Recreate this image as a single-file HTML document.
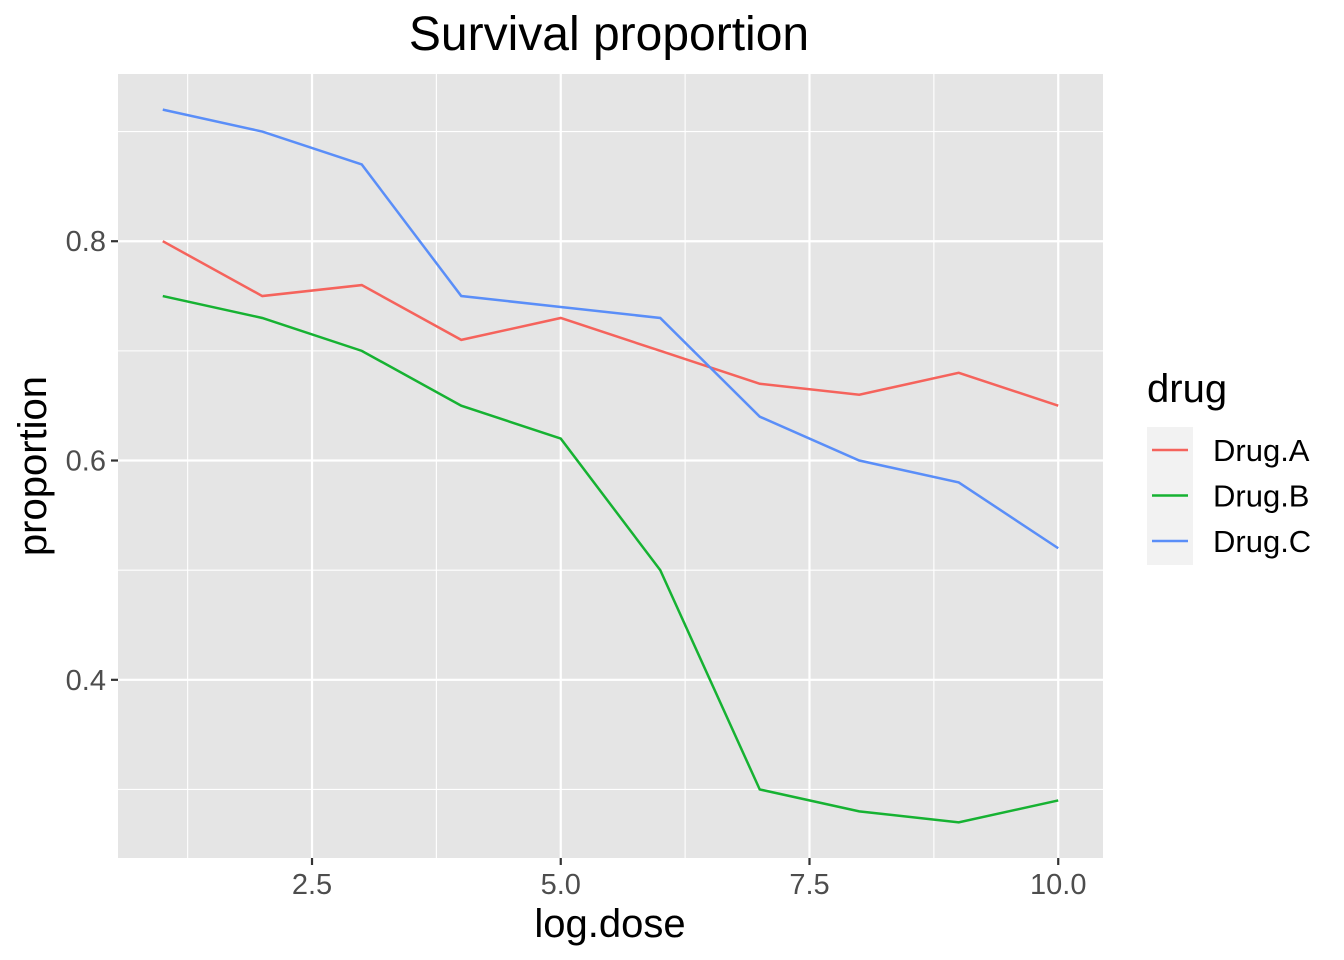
<!DOCTYPE html>
<html><head><meta charset="utf-8"><style>
body{margin:0;background:#fff;}
svg{display:block;font-family:"Liberation Sans",Arial,sans-serif;}
</style></head><body>
<svg id="chart" width="1344" height="960">
<text x="609" y="50" text-anchor="middle" font-size="48" fill="#000">Survival proportion</text>
<rect x="118" y="74" width="985" height="784" fill="#e5e5e5"/>
<g id="grid"></g>
<g id="lines"></g>
<g id="axes"></g>
<text x="610" y="937" text-anchor="middle" font-size="40" fill="#000">log.dose</text>
<text transform="translate(46,466) rotate(-90)" text-anchor="middle" font-size="40" fill="#000">proportion</text>
<g id="legend">
<text x="1147" y="402" font-size="40" fill="#000">drug</text>
<rect x="1147" y="427" width="46" height="138" fill="#f2f2f2"/>
</g>
</svg>
<script>
const doses=[1,2,3,4,5,6,7,8,9,10];
const drugA=[0.80,0.75,0.76,0.71,0.73,0.70,0.67,0.66,0.68,0.65];
const drugB=[0.75,0.73,0.70,0.65,0.62,0.50,0.30,0.28,0.27,0.29];
const drugC=[0.92,0.90,0.87,0.75,0.74,0.73,0.64,0.60,0.58,0.52];
const seriesNames=["Drug.A","Drug.B","Drug.C"];
const xTicks=[2.5,5.0,7.5,10.0];
const xTickLabels=["2.5","5.0","7.5","10.0"];
const yTicks=[0.4,0.6,0.8];
const yTickLabels=["0.4","0.6","0.8"];
const colors=["#F5635C","#16B232","#5A8EF8"];
const NS="http://www.w3.org/2000/svg";
const all=[drugA,drugB,drugC];
const vals=all.flat();
const ymin=Math.min(...vals),ymax=Math.max(...vals);
const yr=ymax-ymin;
const xmin=Math.min(...doses),xmax=Math.max(...doses),xr=xmax-xmin;
const X0=118,X1=1103,Y0=858,Y1=74;
function sx(v){return X0+(v-(xmin-0.05*xr))/(xr*1.1)*(X1-X0);}
function sy(v){return Y0-(v-(ymin-0.05*yr))/(yr*1.1)*(Y0-Y1);}
function mk(tag,attrs,parent){const e=document.createElementNS(NS,tag);for(const k in attrs)e.setAttribute(k,attrs[k]);parent.appendChild(e);return e;}
const grid=document.getElementById('grid'),axes=document.getElementById('axes'),lines=document.getElementById('lines'),legend=document.getElementById('legend');
for(let i=0;i<xTicks.length;i++){const m=xTicks[i]-1.25;if(sx(m)>X0){const l=mk('line',{x1:sx(m),x2:sx(m),y1:Y1,y2:Y0,stroke:'#fff','stroke-width':1.1},grid);

}}
for(let i=0;i<=yTicks.length;i++){const m=(i<yTicks.length?yTicks[i]:yTicks[i-1]+0.2)-0.1;if(sy(m)>Y1&&sy(m)<Y0){const l=mk('line',{x1:X0,x2:X1,y1:sy(m),y2:sy(m),stroke:'#fff','stroke-width':1.1},grid);

}}
xTicks.forEach((t,i)=>{const l=mk('line',{x1:sx(t),x2:sx(t),y1:Y1,y2:Y0,stroke:'#fff','stroke-width':2.2},grid);


mk('line',{x1:sx(t),x2:sx(t),y1:Y0,y2:Y0+7,stroke:'#333','stroke-width':2.2},axes);
const tx=mk('text',{x:sx(t),y:Y0+36,'text-anchor':'middle','font-size':29,fill:'#4d4d4d'},axes);tx.textContent=xTickLabels[i];

});
yTicks.forEach((t,i)=>{const l=mk('line',{x1:X0,x2:X1,y1:sy(t),y2:sy(t),stroke:'#fff','stroke-width':2.2},grid);


mk('line',{x1:X0-7,x2:X0,y1:sy(t),y2:sy(t),stroke:'#333','stroke-width':2.2},axes);
const tx=mk('text',{x:X0-12,y:sy(t)+10,'text-anchor':'end','font-size':29,fill:'#4d4d4d'},axes);tx.textContent=yTickLabels[i];

});
all.forEach((s,k)=>{const p=mk('polyline',{points:s.map((v,i)=>sx(doses[i])+','+sy(v)).join(' '),fill:'none',stroke:colors[k],'stroke-width':2.5},lines);


const ly=450+k*45.5;
mk('line',{x1:1152,x2:1188,y1:ly,y2:ly,stroke:colors[k],'stroke-width':2.5},legend);
const t=mk('text',{x:1213,y:ly+11,'font-size':31,fill:'#000'},legend);t.textContent=seriesNames[k];

});
</script>
</body></html>
